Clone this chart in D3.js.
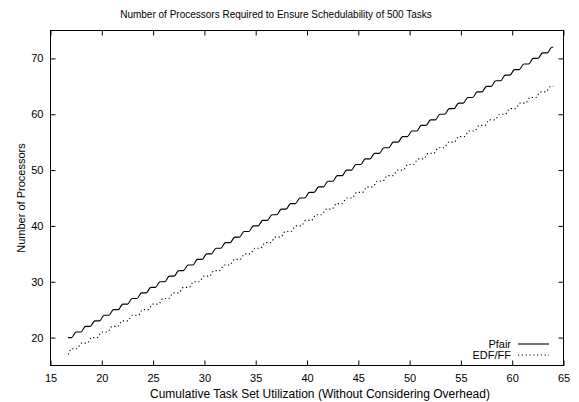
<!DOCTYPE html>
<html>
<head>
<meta charset="utf-8">
<script src="https://cdn.jsdelivr.net/npm/d3@7"></script>
<style>
  html, body { margin: 0; padding: 0; background: #fff; }
  svg { display: block; color: #000; }
  text { font-family: "Liberation Sans", Arial, Helvetica, sans-serif; font-size: 11px; fill: #000; }
</style>
</head>
<body>
<svg id="chart" width="579" height="402"></svg>
<script>
// Processor counts: each series starts at a utilization with a count,
// then steps up by one processor at each listed utilization.
const seriesNames = ["Pfair", "EDF/FF"];
const startU = [16.7, 16.7];
const endU = [64.0, 64.0];
const pfairCounts = [20, 21, 22, 23, 24, 25, 26, 27, 28, 29, 30, 31, 32, 33, 34, 35, 36, 37, 38, 39, 40,
  41, 42, 43, 44, 45, 46, 47, 48, 49, 50, 51, 52, 53, 54, 55, 56, 57, 58, 59, 60,
  61, 62, 63, 64, 65, 66, 67, 68, 69, 70, 71, 72];
const pfairStepU = [17.27, 18.18, 19.09, 20.00, 20.91, 21.82, 22.73, 23.64, 24.55, 25.45,
  26.36, 27.27, 28.18, 29.09, 30.00, 30.91, 31.82, 32.73, 33.64, 34.55,
  35.45, 36.36, 37.27, 38.18, 39.09, 40.00, 40.91, 41.82, 42.73, 43.64,
  44.55, 45.45, 46.36, 47.27, 48.18, 49.09, 50.00, 50.91, 51.82, 52.73,
  53.64, 54.55, 55.45, 56.36, 57.27, 58.18, 59.09, 60.00, 60.91, 61.82,
  62.73, 63.64];
const edfCounts = [17, 18, 19, 20, 21, 22, 23, 24, 25, 26, 27, 28, 29, 30, 31, 32, 33, 34, 35, 36, 37,
  38, 39, 40, 41, 42, 43, 44, 45, 46, 47, 48, 49, 50, 51, 52, 53, 54, 55, 56, 57,
  58, 59, 60, 61, 62, 63, 64, 65];
const edfStepU = [16.80, 17.79, 18.79, 19.78, 20.78, 21.77, 22.76, 23.76, 24.75, 25.75,
  26.74, 27.73, 28.73, 29.72, 30.72, 31.71, 32.70, 33.70, 34.69, 35.69,
  36.68, 37.67, 38.67, 39.66, 40.66, 41.65, 42.64, 43.64, 44.63, 45.63,
  46.62, 47.61, 48.61, 49.60, 50.60, 51.59, 52.58, 53.58, 54.57, 55.57,
  56.56, 57.55, 58.55, 59.54, 60.54, 61.53, 62.52, 63.52];
const xTicks = [15, 20, 25, 30, 35, 40, 45, 50, 55, 60, 65];
const yTicks = [20, 30, 40, 50, 60, 70];

const svg = d3.select("#chart");
const plot = { left: 50.5, right: 563.5, top: 30.5, bottom: 365.5 };

const x = d3.scaleLinear().domain([15, 65]).range([plot.left, plot.right]);
const y = d3.scaleLinear().domain([15, 75]).range([plot.bottom, plot.top]);

// Build the rounded staircase: a flat tread at each count, rising over a short span at each step
function stairPoints(u0, u1, counts, steps) {
  const half = 0.22;
  const pts = [[u0, counts[0]]];
  steps.forEach((u, i) => {
    pts.push([Math.max(u - half, pts[pts.length - 1][0] + 0.01), counts[i]]);
    pts.push([u + half, counts[i + 1]]);
  });
  pts.push([u1, counts[counts.length - 1]]);
  return pts;
}

const line = d3.line()
  .x(d => x(d[0]))
  .y(d => y(d[1]))
  .curve(d3.curveMonotoneX);

svg.append("clipPath").attr("id", "plotclip")
  .append("rect").attr("x", plot.left).attr("y", plot.top)
  .attr("width", plot.right - plot.left).attr("height", plot.bottom - plot.top);

const g = svg.append("g").attr("clip-path", "url(#plotclip)");

g.append("path")
  .datum(stairPoints(startU[0], endU[0], pfairCounts, pfairStepU))
  .attr("d", line)
  .attr("fill", "none")
  .attr("stroke", "#000")
  .attr("stroke-width", 1.1);

g.append("path")
  .datum(stairPoints(startU[1], endU[1], edfCounts, edfStepU))
  .attr("d", line)
  .attr("fill", "none")
  .attr("stroke", "#000")
  .attr("stroke-width", 1.1)
  .attr("stroke-dasharray", "1.2,2.6");

// Axes with inward ticks on all four sides
const tickLen = 5;
const axes = svg.append("g").style("color", "#000");

axes.append("g")
  .attr("transform", `translate(0,${plot.bottom})`)
  .call(d3.axisBottom(x).tickValues(xTicks).tickSizeInner(-tickLen).tickSizeOuter(0).tickPadding(9))
  .call(a => a.select(".domain").remove());
axes.append("g")
  .attr("transform", `translate(0,${plot.top})`)
  .call(d3.axisTop(x).tickValues(xTicks).tickSizeInner(-tickLen).tickSizeOuter(0).tickFormat(""))
  .call(a => a.select(".domain").remove());
axes.append("g")
  .attr("transform", `translate(${plot.left},0)`)
  .call(d3.axisLeft(y).tickValues(yTicks).tickSizeInner(-tickLen).tickSizeOuter(0).tickPadding(7))
  .call(a => a.select(".domain").remove());
axes.append("g")
  .attr("transform", `translate(${plot.right},0)`)
  .call(d3.axisRight(y).tickValues(yTicks).tickSizeInner(-tickLen).tickSizeOuter(0).tickFormat(""))
  .call(a => a.select(".domain").remove());

axes.selectAll(".tick line").attr("stroke", "#000");
axes.selectAll("text")
  .attr("font-family", null)
  .attr("font-size", null)
  .style("font-family", "'Liberation Sans', Arial, sans-serif")
  .style("font-size", "11px")
  .style("fill", "#000");

svg.append("rect")
  .attr("x", plot.left).attr("y", plot.top)
  .attr("width", plot.right - plot.left).attr("height", plot.bottom - plot.top)
  .attr("fill", "none").attr("stroke", "#000").attr("stroke-width", 1);

// Titles
svg.append("text")
  .attr("x", 276).attr("y", 18)
  .attr("text-anchor", "middle")
  .style("font-size", "10px")
  .text("Number of Processors Required to Ensure Schedulability of 500 Tasks");

svg.append("text")
  .attr("x", 320).attr("y", 398)
  .attr("text-anchor", "middle")
  .style("font-size", "12px")
  .text("Cumulative Task Set Utilization (Without Considering Overhead)");

svg.append("text")
  .attr("transform", `translate(24.5,${(plot.top + plot.bottom) / 2}) rotate(-90)`)
  .attr("text-anchor", "middle")
  .text("Number of Processors");

// Legend
const legend = svg.append("g");
seriesNames.forEach((name, i) => {
  const ly = 344 + i * 11;
  legend.append("text")
    .attr("x", 511).attr("y", ly + 4)
    .attr("text-anchor", "end")
    .text(name);
  legend.append("line")
    .attr("x1", 518).attr("x2", 549)
    .attr("y1", ly).attr("y2", ly)
    .attr("stroke", "#000")
    .attr("stroke-width", 1.1)
    .attr("stroke-dasharray", i === 0 ? null : "1.2,2.6");
});
</script>
</body>
</html>
